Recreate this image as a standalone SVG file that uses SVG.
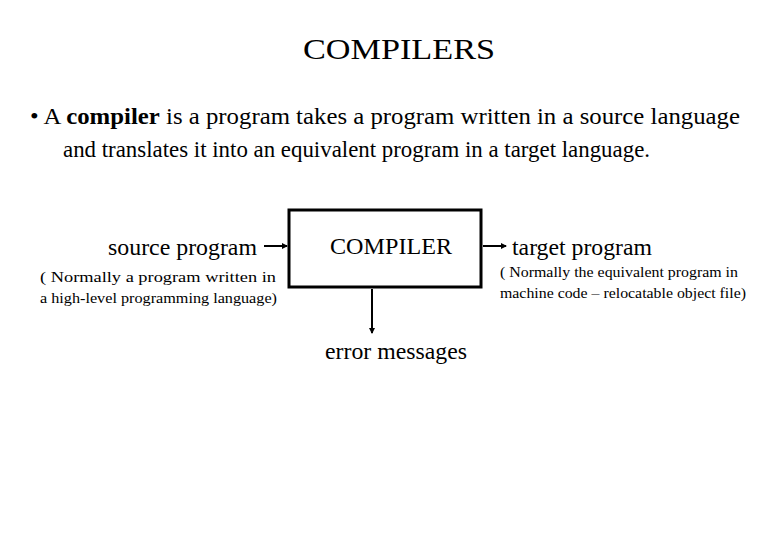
<svg xmlns="http://www.w3.org/2000/svg" width="780" height="540" viewBox="0 0 780 540">
<style>
text{font-family:"Liberation Serif","Times New Roman",serif;fill:#000}
.big{font-size:23px}
.sm{font-size:15px}
.c{stroke:#000;stroke-width:2;fill:none}
</style>
<defs><marker id="ah" markerWidth="6" markerHeight="6" refX="5" refY="3" orient="auto" markerUnits="userSpaceOnUse"><path d="M0,0 L6,3 L0,6 Z" fill="#000"/></marker></defs>
<rect width="780" height="540" fill="#fff"/>
<text x="303" y="59" font-size="29" textLength="192" lengthAdjust="spacingAndGlyphs">COMPILERS</text>
<text x="30" y="124" class="big" textLength="710" lengthAdjust="spacingAndGlyphs">• A <tspan font-weight="bold">compiler</tspan> is a program takes a program written in a source language</text>
<text x="63" y="157" class="big" textLength="587" lengthAdjust="spacingAndGlyphs">and translates it into an equivalent program in a target language.</text>
<g id="compiler"><rect x="289" y="210" width="192" height="77" fill="#fff" stroke="#000" stroke-width="3"/>
<text x="330" y="254" class="big" textLength="122" lengthAdjust="spacingAndGlyphs">COMPILER</text></g>
<g id="source"><text x="108" y="255" class="big" textLength="149" lengthAdjust="spacingAndGlyphs">source program</text>
<text x="40" y="282" class="sm" textLength="236" lengthAdjust="spacingAndGlyphs">( Normally a program written in</text>
<text x="40" y="303" class="sm" textLength="237" lengthAdjust="spacingAndGlyphs">a high-level programming language)</text></g>
<g id="target"><text x="512" y="255" class="big" textLength="140" lengthAdjust="spacingAndGlyphs">target program</text>
<text x="500" y="277" class="sm" textLength="238" lengthAdjust="spacingAndGlyphs">( Normally the equivalent program in</text>
<text x="500" y="298" class="sm" textLength="246" lengthAdjust="spacingAndGlyphs">machine code – relocatable object file)</text></g>
<g id="error"><text x="325" y="359" class="big" textLength="142" lengthAdjust="spacingAndGlyphs">error messages</text></g>
<g id="connectors">
<line x1="264" y1="246" x2="287" y2="246" class="c" marker-end="url(#ah)"/>
<line x1="483" y1="246" x2="506" y2="246" class="c" marker-end="url(#ah)"/>
<line x1="372" y1="289" x2="372" y2="333" class="c" marker-end="url(#ah)"/>
</g>
</svg>
